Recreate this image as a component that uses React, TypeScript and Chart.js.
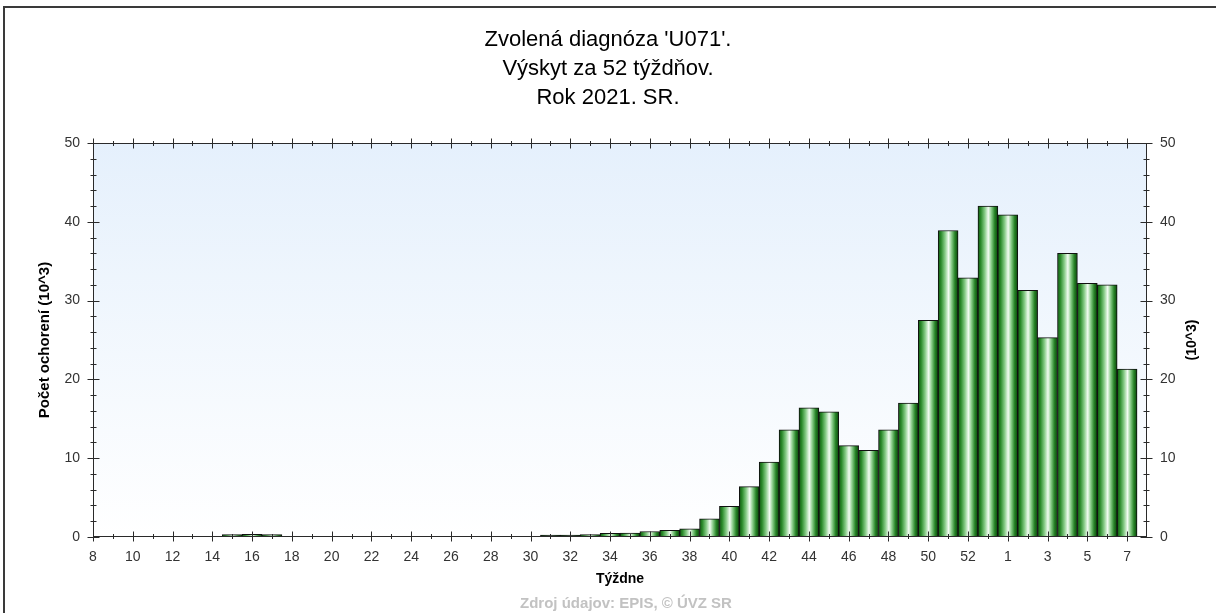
import { useEffect, useRef } from 'react';
import { Chart, registerables } from 'chart.js';

Chart.register(...registerables);

// ---- data ----
const weekLabels = [
  '8', '9', '10', '11', '12', '13', '14', '15', '16', '17', '18', '19', '20', '21', '22', '23',
  '24', '25', '26', '27', '28', '29', '30', '31', '32', '33', '34', '35', '36', '37', '38', '39',
  '40', '41', '42', '43', '44', '45', '46', '47', '48', '49', '50', '51', '52', '53',
  '1', '2', '3', '4', '5', '6', '7',
];
// cases in thousands (10^3)
const cases = [
  0, 0, 0, 0, 0, 0, 0, 0.3, 0.35, 0.3, 0, 0, 0, 0, 0, 0,
  0, 0, 0, 0, 0, 0, 0, 0.25, 0.25, 0.3, 0.45, 0.5, 0.7, 0.85, 1.05, 2.3,
  3.9, 6.4, 9.5, 13.6, 16.4, 15.9, 11.6, 11.0, 13.6, 17.0, 27.5, 38.9, 32.9, 42.0,
  40.9, 31.3, 25.3, 36.0, 32.2, 32.0, 21.3,
];
const yMin = 0;
const yMax = 50;
const yStep = 10;
const titleLines = ["Zvolená diagnóza 'U071'.", 'Výskyt za 52 týždňov.', 'Rok 2021. SR.'];
const yTitle = 'Počet ochorení (10^3)';
const y2Title = '(10^3)';
const xTitle = 'Týždne';
const sourceText = 'Zdroj údajov: EPIS, © ÚVZ SR';

const FONT = "'Liberation Sans', Arial, Helvetica, sans-serif";

const barFill = (c: any) => {
  const chart = c.chart;
  const xs = chart && chart.scales ? chart.scales.x : null;
  if (!xs || c.type !== 'data') return '#4caf50';
  const xv = c.parsed && typeof c.parsed.x === 'number' ? c.parsed.x : c.dataIndex;
  const cx = xs.getPixelForValue(xv);
  const w = Math.abs(xs.getPixelForValue(xv + 1) - xs.getPixelForValue(xv));
  if (!isFinite(cx) || !isFinite(w) || w <= 0) return '#4caf50';
  const g = chart.ctx.createLinearGradient(cx - w / 2, 0, cx + w / 2, 0);
  g.addColorStop(0, '#125812');
  g.addColorStop(0.14, '#2a8a2a');
  g.addColorStop(0.34, '#86cb86');
  g.addColorStop(0.52, '#f2fcf2');
  g.addColorStop(0.68, '#84c984');
  g.addColorStop(0.84, '#278427');
  g.addColorStop(1, '#0a420a');
  return g;
};

const boxPlugin = {
  id: 'boxPlugin',
  beforeDraw(chart: any) {
    const { ctx, chartArea: a, width, height } = chart;
    ctx.save();
    ctx.fillStyle = '#ffffff';
    ctx.fillRect(0, 0, width, height);
    const g = ctx.createLinearGradient(0, a.top, 0, a.bottom);
    g.addColorStop(0, '#e5f0fc');
    g.addColorStop(1, '#ffffff');
    ctx.fillStyle = g;
    ctx.fillRect(a.left, a.top, a.right - a.left, a.bottom - a.top);
    ctx.strokeStyle = '#3a3a3a';
    ctx.lineWidth = 2;
    ctx.beginPath();
    ctx.moveTo(4, height);
    ctx.lineTo(4, 7);
    ctx.lineTo(width, 7);
    ctx.stroke();
    ctx.restore();
  },
  afterDatasetsDraw(chart: any) {
    const { ctx, chartArea: a, scales } = chart;
    const xs = scales.x;
    const ys = scales.y;
    ctx.save();
    ctx.strokeStyle = '#2a2a2a';
    ctx.lineWidth = 1;
    const L = Math.round(a.left) + 0.5;
    const R = Math.round(a.right) - 0.5;
    const T = Math.round(a.top) + 0.5;
    const B = Math.round(a.bottom) - 0.5;
    ctx.strokeRect(L, T, R - L, B - T);
    ctx.beginPath();
    for (let i = 0; i < weekLabels.length; i++) {
      const px = Math.round(xs.getPixelForValue(i)) + 0.5;
      const l = i % 2 === 0 ? 5 : 2.5;
      ctx.moveTo(px, B - l);
      ctx.lineTo(px, B + l);
      ctx.moveTo(px, T - l);
      ctx.lineTo(px, T + l);
    }
    for (let v = yMin; v <= yMax; v += 2) {
      const py = Math.round(ys.getPixelForValue(v)) + 0.5;
      const l = v % yStep === 0 ? 6 : 3;
      ctx.moveTo(L - l, py);
      ctx.lineTo(L + l, py);
      ctx.moveTo(R - l, py);
      ctx.lineTo(R + l, py);
    }
    ctx.stroke();

    // right axis title
    ctx.save();
    ctx.translate(1192, (a.top + a.bottom) / 2);
    ctx.rotate(-Math.PI / 2);
    ctx.font = `bold 14px ${FONT}`;
    ctx.fillStyle = '#000';
    ctx.textAlign = 'center';
    ctx.textBaseline = 'middle';
    ctx.fillText(y2Title, 0, 0);
    ctx.restore();

    // source line
    ctx.font = `bold 15px ${FONT}`;
    ctx.fillStyle = '#c2c2c2';
    ctx.textAlign = 'center';
    ctx.textBaseline = 'middle';
    ctx.fillText(sourceText, (a.left + a.right) / 2 + 6, 604);
    ctx.restore();
  },
};

export default function App() {
  const ref = useRef<HTMLCanvasElement>(null);

  useEffect(() => {
    const canvas = ref.current;
    if (!canvas) return;
    Chart.defaults.font.family = FONT;

    const chart = new Chart(canvas, {
      type: 'bar',
      data: {
        datasets: [
          {
            data: cases.map((v, i) => ({ x: i, y: v })),
            backgroundColor: barFill as any,
            borderColor: '#101010',
            borderWidth: 1,
            barPercentage: 1,
            categoryPercentage: 1,
          },
        ],
      },
      options: {
        responsive: false,
        animation: false,
        devicePixelRatio: 1,
        layout: { padding: 0 },
        plugins: {
          legend: { display: false },
          tooltip: { enabled: false },
          title: {
            display: true,
            text: titleLines,
            color: '#000',
            font: { size: 22, weight: 'normal', lineHeight: '29px' } as any,
            padding: { top: 25.5, bottom: 30.5 },
          },
        },
        scales: {
          x: {
            type: 'linear',
            min: 0,
            max: 53,
            offset: false,
            ticks: {
              stepSize: 1,
              autoSkip: false,
              maxRotation: 0,
              minRotation: 0,
              color: '#333',
              font: { size: 14 },
              padding: 7,
              callback: (v: any) => {
                const n = Number(v);
                return Number.isInteger(n) && n % 2 === 0 && n < weekLabels.length ? weekLabels[n] : '';
              },
            },
            grid: { display: false, drawTicks: true, tickLength: 5 },
            border: { display: false },
            title: {
              display: true,
              text: xTitle,
              color: '#000',
              font: { size: 14, weight: 'bold' },
              padding: { top: 0, bottom: 25.6 },
            },
            afterFit: (s: any) => {
              s.height = 76;
            },
          },
          y: {
            type: 'linear',
            position: 'left',
            min: yMin,
            max: yMax,
            ticks: { stepSize: yStep, color: '#333', font: { size: 14 }, padding: 7 },
            grid: { display: false, drawTicks: true, tickLength: 6 },
            border: { display: false },
            title: {
              display: true,
              text: yTitle,
              color: '#000',
              font: { size: 15, weight: 'bold' },
              padding: { top: 36, bottom: 0 },
            },
            afterFit: (s: any) => {
              s.width = 93;
            },
          },
          y2: {
            type: 'linear',
            position: 'right',
            min: yMin,
            max: yMax,
            ticks: { stepSize: yStep, color: '#333', font: { size: 14 }, padding: 7 },
            grid: { display: false, drawTicks: true, tickLength: 6 },
            border: { display: false },
            afterFit: (s: any) => {
              s.width = 69;
            },
          },
        },
      } as any,
      plugins: [boxPlugin],
    });

    return () => chart.destroy();
  }, []);

  return (
    <div style={{ position: 'absolute', left: 0, top: 0, width: 1216, height: 613, background: '#fff' }}>
      <canvas ref={ref} width={1216} height={613} style={{ display: 'block', width: 1216, height: 613 }} />
    </div>
  );
}
